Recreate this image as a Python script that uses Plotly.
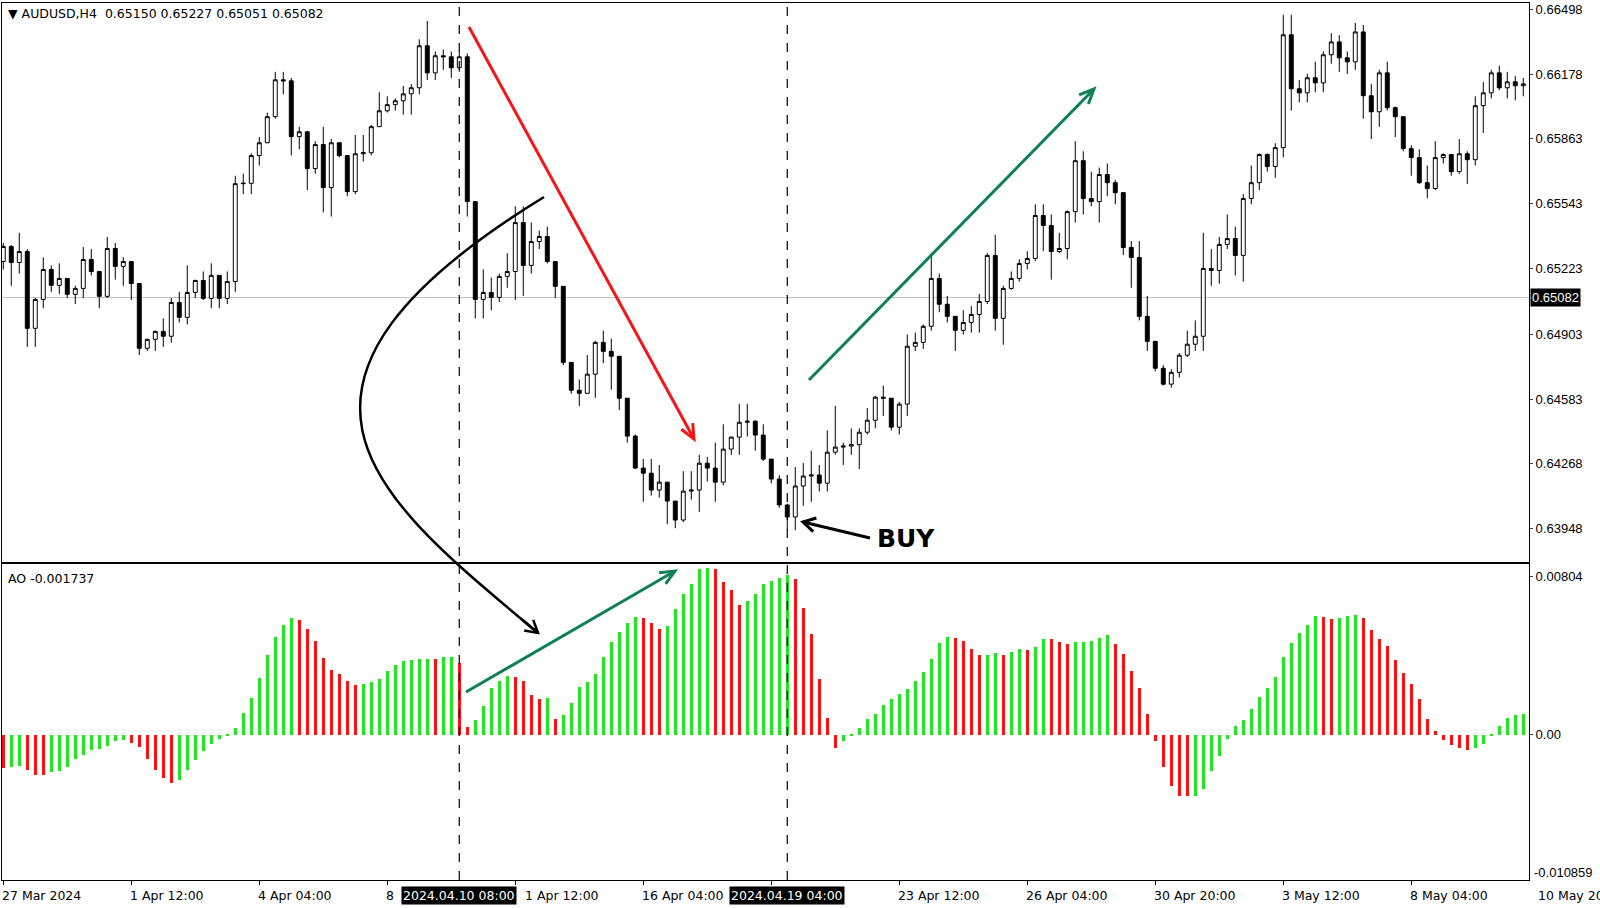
import plotly.graph_objects as go
import math

# ---------------- data ----------------
first_open = 0.65259
close = [0.65333,0.65254,0.65308,0.64931,0.65073,0.65220,0.65142,0.65176,0.65098,0.65127,
0.65269,0.65210,0.65088,0.65323,0.65235,0.65259,0.65151,0.64833,0.64877,0.64916,
0.64892,0.65058,0.64985,0.65107,0.65166,0.65078,0.65191,0.65078,0.65161,0.65641,
0.65643,0.65779,0.65842,0.65970,0.66151,0.66146,0.65872,0.65896,0.65715,0.65833,
0.65622,0.65842,0.65779,0.65602,0.65788,0.65793,0.65921,0.65999,0.66029,0.66048,
0.66082,0.66112,0.66318,0.66185,0.66269,0.66264,0.66210,0.66264,0.65553,0.65073,
0.65107,0.65083,0.65186,0.65210,0.65450,0.65240,0.65357,0.65382,0.65259,0.65137,
0.64764,0.64627,0.64612,0.64706,0.64862,0.64818,0.64794,0.64588,0.64402,0.64245,
0.64220,0.64137,0.64176,0.64083,0.63990,0.64132,0.64137,0.64269,0.64245,0.64176,
0.64338,0.64397,0.64470,0.64475,0.64407,0.64289,0.64191,0.64064,0.64005,0.64157,
0.64206,0.64211,0.64171,0.64323,0.64348,0.64353,0.64360,0.64421,0.64480,0.64593,
0.64588,0.64446,0.64559,0.64843,0.64862,0.64941,0.65176,0.65049,0.64990,0.64921,
0.64960,0.64999,0.65063,0.65289,0.64980,0.65127,0.65176,0.65249,0.65274,0.65485,
0.65436,0.65308,0.65323,0.65504,0.65754,0.65568,0.65553,0.65686,0.65646,0.65597,
0.65328,0.65279,0.64990,0.64867,0.64735,0.64657,0.64715,0.64799,0.64853,0.64892,
0.65225,0.65215,0.65343,0.65372,0.65289,0.65568,0.65646,0.65784,0.65725,0.65818,
0.66372,0.66107,0.66087,0.66161,0.66136,0.66274,0.66337,0.66259,0.66239,0.66386,
0.66073,0.65994,0.66185,0.66014,0.65970,0.65813,0.65769,0.65646,0.65617,0.65769,
0.65784,0.65700,0.65788,0.65759,0.66024,0.66087,0.66185,0.66112,0.66141,0.66122,
0.66131]
high = [0.6535,0.6534,0.6540,0.6532,0.6508,0.6528,0.6524,0.6525,0.6517,0.6514,
0.6533,0.6532,0.6521,0.6538,0.6535,0.6528,0.6526,0.6515,0.6488,0.6492,
0.6498,0.6508,0.6511,0.6524,0.6517,0.6521,0.6525,0.6519,0.6521,0.6568,
0.6569,0.6579,0.6587,0.6599,0.6619,0.6619,0.6616,0.6592,0.6589,0.6585,
0.6592,0.6586,0.6584,0.6578,0.6588,0.6588,0.6593,0.6609,0.6607,0.6606,
0.6612,0.6613,0.6635,0.6644,0.6629,0.6630,0.6629,0.6629,0.6628,0.6555,
0.6522,0.6518,0.6520,0.6530,0.6553,0.6553,0.6545,0.6541,0.6543,0.6526,
0.6513,0.6476,0.6468,0.6480,0.6487,0.6492,0.6488,0.6479,0.6458,0.6441,
0.6429,0.6429,0.6426,0.6417,0.6408,0.6423,0.6423,0.6431,0.6430,0.6437,
0.6446,0.6440,0.6456,0.6456,0.6448,0.6446,0.6429,0.6421,0.6407,0.6425,
0.6427,0.6433,0.6426,0.6443,0.6455,0.6437,0.6444,0.6444,0.6454,0.6460,
0.6465,0.6458,0.6457,0.6490,0.6491,0.6495,0.6530,0.6520,0.6509,0.6499,
0.6502,0.6504,0.6510,0.6530,0.6539,0.6514,0.6521,0.6527,0.6531,0.6554,
0.6554,0.6549,0.6540,0.6551,0.6585,0.6580,0.6570,0.6572,0.6574,0.6566,
0.6560,0.6536,0.6536,0.6509,0.6487,0.6475,0.6473,0.6481,0.6492,0.6497,
0.6540,0.6532,0.6538,0.6549,0.6543,0.6559,0.6573,0.6579,0.6579,0.6584,
0.6647,0.6647,0.6615,0.6618,0.6624,0.6629,0.6638,0.6637,0.6629,0.6643,
0.6642,0.6613,0.6620,0.6624,0.6602,0.6597,0.6583,0.6581,0.6573,0.6585,
0.6579,0.6578,0.6586,0.6580,0.6607,0.6614,0.6620,0.6622,0.6619,0.6617,
0.6616]
low = [0.6522,0.6514,0.6520,0.6484,0.6484,0.6503,0.6511,0.6510,0.6508,0.6505,
0.6508,0.6519,0.6503,0.6508,0.6517,0.6514,0.6507,0.6480,0.6482,0.6482,
0.6484,0.6486,0.6496,0.6495,0.6508,0.6507,0.6503,0.6503,0.6505,0.6511,
0.6559,0.6559,0.6573,0.6584,0.6596,0.6608,0.6578,0.6581,0.6561,0.6569,
0.6550,0.6548,0.6577,0.6558,0.6559,0.6575,0.6578,0.6592,0.6599,0.6600,
0.6598,0.6598,0.6608,0.6615,0.6615,0.6620,0.6616,0.6619,0.6548,0.6498,
0.6498,0.6502,0.6506,0.6513,0.6507,0.6509,0.6520,0.6532,0.6525,0.6508,
0.6475,0.6461,0.6455,0.6461,0.6459,0.6476,0.6463,0.6453,0.6437,0.6424,
0.6408,0.6411,0.6410,0.6397,0.6395,0.6398,0.6409,0.6403,0.6418,0.6408,
0.6416,0.6431,0.6431,0.6440,0.6433,0.6428,0.6417,0.6405,0.6394,0.6394,
0.6406,0.6408,0.6413,0.6413,0.6431,0.6426,0.6431,0.6424,0.6441,0.6444,
0.6450,0.6443,0.6441,0.6450,0.6482,0.6483,0.6492,0.6501,0.6496,0.6482,
0.6490,0.6491,0.6491,0.6505,0.6492,0.6485,0.6512,0.6516,0.6522,0.6526,
0.6531,0.6517,0.6530,0.6527,0.6545,0.6549,0.6553,0.6545,0.6558,0.6554,
0.6529,0.6513,0.6497,0.6482,0.6472,0.6465,0.6464,0.6469,0.6479,0.6482,
0.6482,0.6514,0.6515,0.6532,0.6519,0.6516,0.6554,0.6561,0.6570,0.6567,
0.6577,0.6600,0.6604,0.6604,0.6609,0.6609,0.6623,0.6619,0.6618,0.6620,
0.6596,0.6586,0.6592,0.6600,0.6587,0.6580,0.6568,0.6564,0.6557,0.6561,
0.6574,0.6568,0.6569,0.6564,0.6573,0.6589,0.6606,0.6610,0.6606,0.6605,
0.6607]
ao_pips = [-16.8,-16.5,-15.7,-17.8,-20.3,-20.6,-18.8,-18.3,-16.3,-12.2,
-10.2,-7.6,-7.1,-5.6,-3.0,-2.8,-4.1,-6.1,-12.2,-17.8,
-21.8,-24.4,-22.9,-17.8,-12.7,-8.1,-4.6,-2.0,-0.5,3.6,
11.2,18.8,29.0,40.6,49.8,55.9,59.4,58.4,53.8,47.8,
39.1,33.0,31.0,27.4,25.4,25.9,26.9,28.4,32.5,35.6,
37.6,38.1,38.3,38.6,38.4,39.4,39.5,36.6,4.1,7.6,
14.7,23.9,27.4,30.0,29.5,27.4,20.3,18.3,18.4,8.1,
10.2,16.3,24.4,26.9,31.0,39.6,47.2,52.3,56.9,59.9,
59.4,56.9,53.8,55.4,64.0,71.6,76.7,84.3,84.6,84.3,
77.7,73.7,66.0,68.1,71.6,76.7,78.2,79.8,81.3,
79.0,64.5,51.0,28.1,8.3,-6.8,-3.4,-0.3,3.6,8.1,
10.4,15.1,18.2,20.8,23.4,27.4,31.7,38.5,46.8,49.7,
48.9,47.8,43.7,40.6,40.7,41.6,40.6,41.9,43.4,42.9,
44.6,48.6,48.5,47.1,45.9,47.0,47.05,47.8,49.3,50.6,
46.3,41.1,32.2,23.7,10.4,-3.4,-16.6,-26.0,-31.2,-31.3,
-31.1,-27.6,-18.2,-10.7,-2.1,4.6,7.6,13.0,19.1,23.7,
29.1,39.5,46.8,51.5,55.6,60.3,59.6,58.8,59.4,60.3,
60.6,59.4,53.0,48.4,45.1,37.8,31.2,25.8,18.2,7.8,
2.1,-2.9,-5.4,-6.8,-7.6,-6.8,-4.7,-0.2,4.4,8.3,9.9,10.4]

price_ticks = [0.66498,0.66178,0.65863,0.65543,0.65223,0.64903,0.64583,0.64268,0.63948]
ao_ticks = [0.00804, 0.0]
# date labels as visible in the reference (partly hidden by the marker boxes)
date_labels = ["27 Mar 2024","1 Apr 12:00","4 Apr 04:00","8","1 Apr 12:00",
               "16 Apr 04:00","","23 Apr 12:00","26 Apr 04:00","30 Apr 20:00",
               "3 May 12:00","8 May 04:00","10 May 20"]
label_every = 16
marker_idx = [57, 98]
marker_text = ["2024.04.10 08:00", "2024.04.19 04:00"]
last_price = 0.65082
header = "AUDUSD,H4  0.65150 0.65227 0.65051 0.65082"
ao_header = "AO -0.001737"

# ---------------- build ----------------
n = len(close)
x = list(range(n))
opn = [first_open] + close[:-1]
hi = [max(h, o, c) for h, o, c in zip(high, opn, close)]
lo = [min(l, o, c) for l, o, c in zip(low, opn, close)]
ao = [v / 10000 for v in ao_pips]
ao_col = ["#ff1010" if (i == 0 or ao[i] <= ao[i-1]) else "#1ee61e" for i in range(len(ao))]

W, H = 1600, 908
L, R, T, B = 2, 71, 3, 28
pw, ph = W - L - R, H - T - B
BAR = 8.0
X0 = -0.16
def px(xp): return (xp - L) / pw
def py(yp): return (H - B - yp) / ph
def bx(i): return (i - X0) * BAR / pw  # bar index -> paper x

FONT = "DejaVu Sans"
AXF = dict(family="Liberation Sans", size=13)
fig = go.Figure()
fig.add_trace(go.Candlestick(x=x, open=opn, high=hi, low=lo, close=close,
    xaxis="x2", yaxis="y2", whiskerwidth=0,
    increasing=dict(line=dict(color="black", width=1), fillcolor="white"),
    decreasing=dict(line=dict(color="black", width=1), fillcolor="black"),
    showlegend=False, hoverinfo="skip"))
fig.add_trace(go.Bar(x=list(range(len(ao))), y=ao, marker=dict(color=ao_col, line=dict(width=0)),
    width=0.36, xaxis="x", yaxis="y", showlegend=False, hoverinfo="skip"))

xr = [X0, X0 + pw / BAR]
ax_common = dict(range=xr, showgrid=False, zeroline=False, showline=True, mirror=True,
                 linecolor="black", linewidth=1)
fig.update_layout(
    width=W, height=H, margin=dict(l=L, r=R, t=T, b=B),
    paper_bgcolor="white", plot_bgcolor="white", bargap=0,
    font=dict(family=FONT, size=12, color="black"),
    xaxis=dict(**ax_common, anchor="y", tickvals=list(range(0, 200, label_every)),
               showticklabels=False, ticks="outside", ticklen=4, tickcolor="black"),
    xaxis2=dict(**ax_common, anchor="y2", showticklabels=False, rangeslider=dict(visible=False)),
    yaxis=dict(domain=[0, (H - B - 564) / ph], range=[-0.00738, 0.00867], side="right",
               tickvals=ao_ticks, ticktext=["0.00804", "0.00"], showgrid=False, zeroline=False,
               showline=True, mirror=True, linecolor="black", ticks="outside", ticklen=3,
               tickfont=AXF),
    yaxis2=dict(domain=[(H - B - 562) / ph, 1], range=[0.63784, 0.66528], side="right",
                tickvals=price_ticks, tickformat=".5f", showgrid=False, zeroline=False,
                showline=True, mirror=True, linecolor="black", ticks="outside", ticklen=3,
                tickfont=AXF),
)

shapes = []
shapes.append(dict(type="line", xref="x2", yref="y2", x0=xr[0], x1=xr[1], y0=last_price, y1=last_price,
                   line=dict(color="#c0c0c0", width=1), layer="below"))
for m in marker_idx:
    shapes.append(dict(type="line", xref="x2", yref="paper", x0=m, x1=m, y0=0, y1=1,
                       line=dict(color="black", width=1.2, dash="dash")))

def arrow(p0, p1, color, width=3, head=16, ang=24):
    (x0, y0), (x1, y1) = p0, p1
    shapes.append(dict(type="path", xref="paper", yref="paper",
                       path=f"M {px(x0)},{py(y0)} L {px(x1)},{py(y1)}",
                       line=dict(color=color, width=width)))
    ux, uy = x0 - x1, y0 - y1
    d = math.hypot(ux, uy); ux, uy = ux / d, uy / d
    pts = []
    for s in (1, -1):
        a = math.radians(ang) * s
        rx = ux * math.cos(a) - uy * math.sin(a)
        ry = ux * math.sin(a) + uy * math.cos(a)
        pts.append((x1 + head * rx, y1 + head * ry))
    shapes.append(dict(type="path", xref="paper", yref="paper",
                       path=f"M {px(pts[0][0])},{py(pts[0][1])} L {px(x1)},{py(y1)} L {px(pts[1][0])},{py(pts[1][1])}",
                       line=dict(color=color, width=width)))

RED, GRN = "#f01818", "#0f7f55"
arrow((469, 27), (694, 439), RED)
arrow((809, 380), (1094, 89), GRN)
arrow((466, 692), (675, 571), GRN)
arrow((870, 538), (803, 522), "black", width=3, head=14, ang=30)
s, c1, c2, e = (544, 197), (230, 390), (380, 500), (538, 633)
shapes.append(dict(type="path", xref="paper", yref="paper",
                   path=f"M {px(s[0])},{py(s[1])} C {px(c1[0])},{py(c1[1])} {px(c2[0])},{py(c2[1])} {px(e[0])},{py(e[1])}",
                   line=dict(color="black", width=2.5)))
arrow((c2[0] + (e[0]-c2[0])*0.9, c2[1] + (e[1]-c2[1])*0.9), e, "black", width=2.5, head=14, ang=30)
fig.update_layout(shapes=shapes)

ann = []
ann.append(dict(xref="paper", yref="paper", x=px(6), y=py(14), text="▼ " + header, showarrow=False,
                xanchor="left", yanchor="middle", font=dict(size=12.5)))
ann.append(dict(xref="paper", yref="paper", x=px(6), y=py(578), text=ao_header, showarrow=False,
                xanchor="left", yanchor="middle", font=dict(size=12.5)))
ann.append(dict(xref="paper", yref="paper", x=1, xshift=3, y=py(872), text="-0.010859", showarrow=False,
                xanchor="left", yanchor="middle", font=AXF))
ann.append(dict(xref="paper", yref="y2", x=1, xshift=1, y=last_price, text="%.5f" % last_price, showarrow=False,
                xanchor="left", yanchor="middle", bgcolor="black", borderpad=1,
                font=dict(family="Liberation Sans", size=13, color="white")))
ann.append(dict(xref="paper", yref="paper", x=px(906), y=py(538), text="<b>BUY</b>", showarrow=False,
                xanchor="center", yanchor="middle", font=dict(size=25, family="DejaVu Sans")))
for k, t in enumerate(date_labels):
    if not t:
        continue
    xs = -3
    if k == 4:
        xs = 8
    ann.append(dict(xref="paper", yref="paper", x=bx(k * label_every), xshift=xs, y=py(895), text=t,
                    showarrow=False, xanchor="left", yanchor="middle", font=dict(size=12.5)))
for m, t in zip(marker_idx, marker_text):
    ann.append(dict(xref="paper", yref="paper", x=bx(m), y=py(895), text=t, showarrow=False,
                    xanchor="center", yanchor="middle", bgcolor="black", borderpad=1,
                    font=dict(size=12.5, color="white")))
fig.update_layout(annotations=ann)
fig.write_html("out.html", config={"displayModeBar": False},
               post_script="document.body.style.margin='0';document.body.style.padding='0';")
